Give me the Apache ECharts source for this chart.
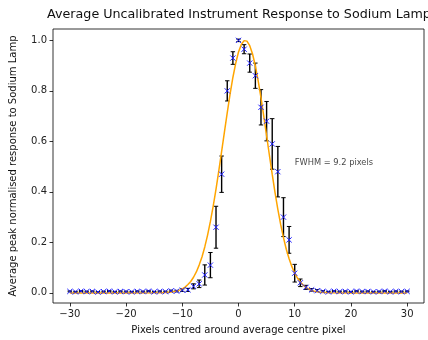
<!DOCTYPE html>
<html>
<head>
<meta charset="utf-8">
<script src="https://cdn.jsdelivr.net/npm/echarts@6/dist/echarts.min.js"></script>
<style>
  html, body { margin: 0; padding: 0; background: #ffffff; }
  #chart { width: 428px; height: 340px; }
</style>
</head>
<body>
<div id="chart"></div>
<script>
// Pixel offsets from the average centre pixel
const pixelOffsets = [
  -30, -29, -28, -27, -26, -25, -24, -23, -22, -21,
  -20, -19, -18, -17, -16, -15, -14, -13, -12, -11,
  -10, -9, -8, -7, -6, -5, -4, -3, -2, -1,
  0, 1, 2, 3, 4, 5, 6, 7, 8, 9,
  10, 11, 12, 13, 14, 15, 16, 17, 18, 19,
  20, 21, 22, 23, 24, 25, 26, 27, 28, 29, 30
];

// Peak-normalised mean response at each offset
const meanResponse = [
  0.006, 0.004, 0.007, 0.005, 0.006, 0.003, 0.005, 0.007, 0.004, 0.006,
  0.005, 0.004, 0.006, 0.005, 0.007, 0.004, 0.006, 0.005, 0.008, 0.007,
  0.011, 0.012, 0.026, 0.036, 0.071, 0.110, 0.260, 0.470, 0.800, 0.930,
  1.000, 0.965, 0.910, 0.860, 0.735, 0.680, 0.590, 0.480, 0.300, 0.210,
  0.078, 0.040, 0.022, 0.012, 0.009, 0.006, 0.004, 0.007, 0.005, 0.006,
  0.004, 0.007, 0.005, 0.006, 0.004, 0.005, 0.007, 0.004, 0.006, 0.005, 0.006
];

// Standard error of the mean response
const responseError = [
  0.002, 0.002, 0.002, 0.002, 0.002, 0.002, 0.002, 0.002, 0.002, 0.002,
  0.002, 0.002, 0.002, 0.002, 0.002, 0.002, 0.002, 0.002, 0.003, 0.003,
  0.005, 0.006, 0.010, 0.015, 0.040, 0.050, 0.083, 0.072, 0.040, 0.025,
  0.005, 0.018, 0.036, 0.050, 0.070, 0.078, 0.100, 0.100, 0.077, 0.053,
  0.035, 0.015, 0.008, 0.005, 0.004, 0.003, 0.002, 0.002, 0.002, 0.002,
  0.002, 0.002, 0.002, 0.002, 0.002, 0.002, 0.002, 0.002, 0.002, 0.002, 0.002
];

// Gaussian fit sampled along the pixel axis
const fitPixels = [
  -30, -20, -14, -13.5, -13, -12.5, -12, -11.5, -11, -10.5,
  -10, -9.5, -9, -8.5, -8, -7.5, -7, -6.5, -6, -5.5,
  -5, -4.5, -4, -3.5, -3, -2.5, -2, -1.5, -1, -0.5,
  0, 0.5, 1, 1.5, 2, 2.5, 3, 3.5, 4, 4.5,
  5, 5.5, 6, 6.5, 7, 7.5, 8, 8.5, 9, 9.5,
  10, 10.5, 11, 11.5, 12, 12.5, 13, 13.5, 14, 14.5,
  15, 15.5, 16, 20, 30
];
const fitResponse = [
  0.0, 0.0, 0.0005, 0.0008, 0.0013, 0.002, 0.0033, 0.005, 0.0075, 0.011,
  0.016, 0.023, 0.033, 0.045, 0.062, 0.083, 0.110, 0.142, 0.182, 0.229,
  0.283, 0.344, 0.411, 0.484, 0.560, 0.638, 0.714, 0.787, 0.853, 0.909,
  0.954, 0.984, 0.999, 0.997, 0.979, 0.946, 0.899, 0.840, 0.773, 0.699,
  0.622, 0.545, 0.469, 0.397, 0.331, 0.271, 0.219, 0.173, 0.135, 0.104,
  0.078, 0.058, 0.043, 0.031, 0.022, 0.015, 0.010, 0.0069, 0.0046, 0.003,
  0.0019, 0.0012, 0.0007, 0.0, 0.0
];

const xTicks = [-30, -20, -10, 0, 10, 20, 30];
const yTicks = [0.0, 0.2, 0.4, 0.6, 0.8, 1.0];

const titleText = 'Average Uncalibrated Instrument Response to Sodium Lamp';
const xLabel = 'Pixels centred around average centre pixel';
const yLabel = 'Average peak normalised response to Sodium Lamp';
const fwhmNote = 'FWHM = 9.2 pixels';
const fwhmAnchor = [10, 0.515];

const FONT = 'DejaVu Sans';

const points = pixelOffsets.map((x, i) => [x, meanResponse[i], responseError[i]]);
const fitLine = fitPixels.map((x, i) => [x, fitResponse[i]]);

const fmtX = v => (v < 0 ? '\u2212' + Math.abs(v) : String(v));
const fmtY = v => v.toFixed(1);

const chart = echarts.init(document.getElementById('chart'), null, { renderer: 'canvas' });

chart.setOption({
  animation: false,
  backgroundColor: '#ffffff',
  grid: {
    left: 52, right: 4, top: 29, bottom: 35,
    show: true, borderColor: '#000000', borderWidth: 0.8,
    backgroundColor: 'transparent'
  },
  graphic: [{
    type: 'text',
    x: 239, y: 8,
    style: {
      text: titleText,
      font: '12.7px "' + FONT + '"',
      fill: '#111111',
      textAlign: 'center'
    }
  }],
  xAxis: {
    type: 'value',
    min: -33, max: 33,
    name: xLabel,
    nameLocation: 'middle',
    nameGap: 22,
    nameTextStyle: { fontFamily: FONT, fontSize: 10, color: '#111111' },
    axisLine: { show: false, onZero: false },
    splitLine: { show: false },
    axisTick: { show: true, length: 3.5, lineStyle: { color: '#000000', width: 0.8 }, customValues: xTicks },
    axisLabel: { fontFamily: FONT, fontSize: 10, color: '#222222', margin: 6, customValues: xTicks, formatter: fmtX }
  },
  yAxis: {
    type: 'value',
    min: -0.04, max: 1.045,
    name: yLabel,
    nameLocation: 'middle',
    nameRotate: 90,
    nameGap: 35,
    nameTextStyle: { fontFamily: FONT, fontSize: 10, color: '#111111' },
    axisLine: { show: false, onZero: false },
    splitLine: { show: false },
    axisTick: { show: true, length: 3.5, lineStyle: { color: '#000000', width: 0.8 }, customValues: yTicks },
    axisLabel: { fontFamily: FONT, fontSize: 10, color: '#222222', margin: 6, customValues: yTicks, formatter: fmtY }
  },
  series: [
    {
      // error bars with caps
      type: 'custom',
      z: 2,
      data: points,
      renderItem: function (params, api) {
        const x = api.value(0), y = api.value(1), e = api.value(2);
        const top = api.coord([x, y + e]);
        const bot = api.coord([x, y - e]);
        const cap = 2.2;
        const st = { stroke: '#000000', lineWidth: 1.4 };
        return {
          type: 'group',
          children: [
            { type: 'line', shape: { x1: top[0], y1: top[1], x2: bot[0], y2: bot[1] }, style: st },
            { type: 'line', shape: { x1: top[0] - cap, y1: top[1], x2: top[0] + cap, y2: top[1] }, style: { stroke: '#000000', lineWidth: 1 } },
            { type: 'line', shape: { x1: bot[0] - cap, y1: bot[1], x2: bot[0] + cap, y2: bot[1] }, style: { stroke: '#000000', lineWidth: 1 } }
          ]
        };
      }
    },
    {
      type: 'line',
      z: 3,
      data: fitLine,
      showSymbol: false,
      smooth: false,
      lineStyle: { color: '#ffa500', width: 1.5 },
      itemStyle: { color: '#ffa500' }
    },
    {
      // 'x' markers at the mean response
      type: 'custom',
      z: 4,
      data: points,
      renderItem: function (params, api) {
        const p = api.coord([api.value(0), api.value(1)]);
        const h = 2.6;
        const st = { stroke: '#1f1fff', lineWidth: 1 };
        return {
          type: 'group',
          children: [
            { type: 'line', shape: { x1: p[0] - h, y1: p[1] - h, x2: p[0] + h, y2: p[1] + h }, style: st },
            { type: 'line', shape: { x1: p[0] - h, y1: p[1] + h, x2: p[0] + h, y2: p[1] - h }, style: st }
          ]
        };
      }
    },
    {
      type: 'scatter',
      z: 5,
      data: [fwhmAnchor],
      symbolSize: 0,
      silent: true,
      label: {
        show: true,
        position: 'right',
        distance: 0,
        formatter: fwhmNote,
        fontFamily: FONT,
        fontSize: 8.3,
        color: '#111111'
      }
    }
  ]
});
</script>
</body>
</html>
